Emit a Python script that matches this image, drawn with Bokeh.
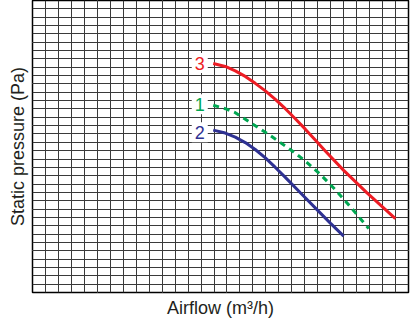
import math
from bokeh.plotting import figure
from bokeh.models import Range1d, Grid, FixedTicker, Title
from bokeh.core.properties import value
from bokeh.embed import file_html
from bokeh.resources import INLINE

# grid (in grid units)
x_grid = list(range(0, 30))
y_grid = list(range(0, 36))

# curves (grid units)
curve3_x = [13.94, 14.87, 15.64, 16.41, 17.18, 17.96, 18.73, 19.50, 20.27, 21.04, 21.81, 22.58, 24.0, 25.8, 27.99]
curve3_y = [27.45, 27.09, 26.56, 25.90, 25.07, 24.17, 23.15, 22.03, 20.83, 19.58, 18.27, 16.96, 14.64, 11.95, 8.86]

curve1_x = [13.94, 14.87, 15.64, 16.80, 18.34, 19.88, 21.04, 22.20, 23.36, 24.51, 25.93]
curve1_y = [22.44, 22.03, 21.55, 20.36, 18.81, 17.14, 15.77, 14.16, 12.31, 10.29, 7.66]

curve2_x = [13.94, 14.87, 15.64, 16.41, 17.18, 17.96, 18.73, 19.50, 20.66, 21.94, 22.97, 24.0]
curve2_y = [19.46, 19.11, 18.63, 17.97, 17.14, 16.13, 14.99, 13.80, 11.95, 9.93, 8.32, 6.75]

label_text = ["3", "1", "2"]
label_x = [12.9, 12.9, 12.9]
label_y = [27.5, 22.56, 19.2]
label_color = ["#ED1C24", "#00A651", "#2E3192"]

x_title = "Airflow (m³/h)"
y_title = "Static pressure (Pa)"

FONT = "Liberation Sans"
TXT = "#231F20"

p = figure(frame_width=376, frame_height=292, output_backend="svg", toolbar_location=None,
           x_axis_location=None, y_axis_location=None,
           x_range=Range1d(0, 29), y_range=Range1d(0, 35),
           min_border_left=0, min_border_right=2, min_border_top=0, min_border_bottom=0)
p.outline_line_color = "black"
p.outline_line_width = 1.5
p.background_fill_color = "white"
p.border_fill_color = "white"

p.add_layout(Title(text=y_title, align="center", text_font=FONT, text_font_size="18px",
                   text_font_style="normal", text_color=TXT, standoff=10), "left")
p.add_layout(Title(text=x_title, align="center", text_font=FONT, text_font_size="18px",
                   text_font_style="normal", text_color=TXT, standoff=7), "below")

p.add_layout(Grid(dimension=0, ticker=FixedTicker(ticks=x_grid),
                  grid_line_color="#3a3a3a", grid_line_width=1))
p.add_layout(Grid(dimension=1, ticker=FixedTicker(ticks=y_grid),
                  grid_line_color="#3a3a3a", grid_line_width=1))

p.line(curve3_x, curve3_y, line_color=label_color[0], line_width=3)
p.line(curve1_x, curve1_y, line_color=label_color[1], line_width=3, line_dash="6 5")
p.line(curve2_x, curve2_y, line_color=label_color[2], line_width=3)

p.rect(x=label_x, y=label_y, width=16, height=20, width_units="screen", height_units="screen",
       fill_color="white", line_color=None)
p.text(x=label_x, y=label_y, text=label_text, text_color=label_color,
       text_align="center", text_baseline="middle",
       text_font=value(FONT), text_font_size=value("18px"))

open("out.html", "w").write(file_html(p, INLINE))
